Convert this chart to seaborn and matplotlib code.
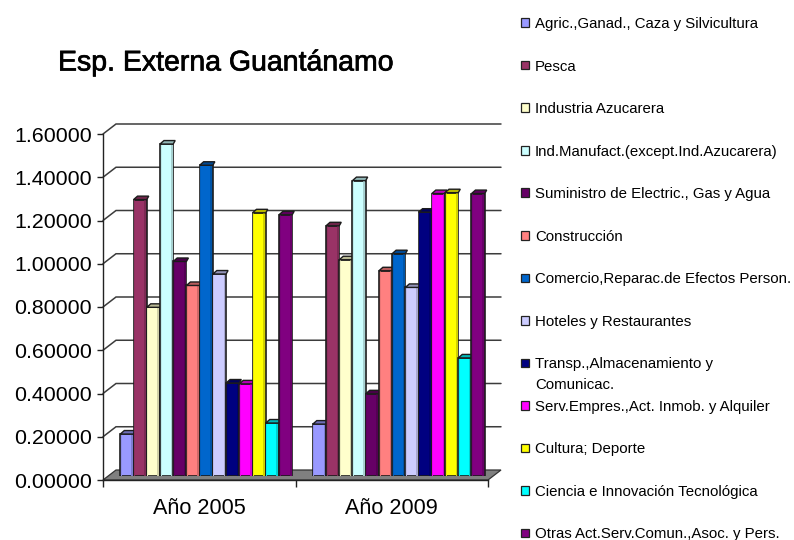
import matplotlib
matplotlib.use("Agg")
import matplotlib.pyplot as plt
import matplotlib.colors as mc
import matplotlib.patheffects as pe
from matplotlib.patches import Patch, Polygon
import numpy as np
import pandas as pd
import seaborn as sns

years = ["Año 2005", "Año 2009"]
sectors = ["Agric.,Ganad., Caza y Silvicultura", "Pesca", "Industria Azucarera",
           "Ind.Manufact.(except.Ind.Azucarera)", "Suministro de Electric., Gas y Agua",
           "Construcción", "Comercio,Reparac.de Efectos Person.", "Hoteles y Restaurantes",
           "Transp.,Almacenamiento y Comunicac.", "Serv.Empres.,Act. Inmob. y Alquiler",
           "Cultura; Deporte", "Ciencia e Innovación Tecnológica",
           "Otras Act.Serv.Comun.,Asoc. y Pers."]
values_2005 = [0.194, 1.278, 0.78, 1.535, 0.992, 0.881, 1.437, 0.934, 0.43, 0.426, 1.217, 0.245, 1.208]
values_2009 = [0.24, 1.157, 1.0, 1.366, 0.38, 0.949, 1.028, 0.872, 1.22, 1.306, 1.31, 0.546, 1.306]
colors = ["#9999FF", "#993366", "#FFFFCC", "#CCFFFF", "#660066", "#FF8080", "#0066CC",
          "#CCCCFF", "#000080", "#FF00FF", "#FFFF00", "#00FFFF", "#800080"]
ytick_values = [0, 0.2, 0.4, 0.6, 0.8, 1.0, 1.2, 1.4, 1.6]

df = pd.DataFrame({
    "year": [years[0]] * 13 + [years[1]] * 13,
    "sector": sectors * 2,
    "value": values_2005 + values_2009,
})

W, H = 794, 540
sns.set_theme(style="white")
plt.rcParams["font.family"] = ["Liberation Sans", "DejaVu Sans"]
fig = plt.figure(figsize=(W / 100, H / 100), dpi=100, facecolor="white")


def px_axes(left, right, top, bottom):
    return fig.add_axes([left / W, 1 - bottom / H, (right - left) / W, (bottom - top) / H])


# Front plane: value axis, category axis, walls
ax = px_axes(103, 488, 134, 480)
ax.set_xlim(-0.5, 1.5)
ax.set_ylim(0, 1.6)
xpx, ypx = 2 / 385, 1.6 / 346
dx, dy = 13 * xpx, 10 * ypx
for v in ytick_values[1:]:
    ax.plot([-0.5, -0.5 + dx, 1.5 + dx], [v, v + dy, v + dy], color="#3c3c3c", lw=1.1,
            clip_on=False, zorder=1, solid_joinstyle="miter")
ax.add_patch(Polygon([(-0.5, 0), (-0.5 + dx, dy), (1.5 + dx, dy), (1.5, 0)], closed=True,
                     facecolor="#808080", edgecolor="#333333", lw=0.9, clip_on=False, zorder=1.5))
ax.set_yticks(ytick_values)
ax.set_yticklabels([f"{v:.5f}" for v in ytick_values], fontsize=15.4, color="black")
ax.set_xticks([0, 1])
ax.set_xticklabels(years, fontsize=15.6, color="black")
ax.set_xticks([-0.5, 0.5, 1.5], minor=True)
ax.tick_params(axis="x", which="major", length=0, pad=13)
ax.tick_params(axis="x", which="minor", length=5, width=1, color="#222222", bottom=True)
ax.tick_params(axis="y", length=4, width=1, color="#222222", left=True, pad=4)
for name, spine in ax.spines.items():
    spine.set_visible(name in ("left", "bottom"))
    spine.set_color("#222222")
    spine.set_linewidth(1)
ax.patch.set_alpha(0)

# Bar plane, set back inside the depth of the chart
axb = px_axes(110, 495, 130, 476)
axb.patch.set_alpha(0)
sns.barplot(data=df, x="year", y="value", hue="sector", order=years, hue_order=sectors,
            palette=colors, width=0.893, gap=0, dodge=True, saturation=1, legend=False,
            errorbar=None, ax=axb, edgecolor="#1c1c1c", linewidth=1.2)
axb.set_xlim(-0.5, 1.5)
axb.set_ylim(0, 1.6)
axb.axis("off")

bxpx, bypx = 2 / 385, 1.6 / 346
for i, cont in enumerate(axb.containers):
    col = np.array(mc.to_rgb(colors[i]))
    for p in cont.patches:
        x0, w, h = p.get_x(), p.get_width(), p.get_height()
        z = 3 + i * 0.1
        p.set_zorder(z)
        strip = 2.5 * bxpx
        axb.fill_between([x0 + w - strip, x0 + w - 0.6 * bxpx], 0 + 0.5 * bypx, h - 0.6 * bypx,
                         color=col * 0.82, lw=0, zorder=z + 0.01)
        axb.fill_between([x0 + 0.6 * bxpx, x0 + 1.6 * bxpx], 0 + 0.5 * bypx, h - 0.6 * bypx,
                         color=col * 0.92, lw=0, zorder=z + 0.01)
        cap = [(x0, h), (x0 + w, h), (x0 + w + 2 * bxpx, h + 3.5 * bypx), (x0 + 4 * bxpx, h + 3.5 * bypx)]
        axb.add_patch(Polygon(cap, closed=True, facecolor=col * 0.72, edgecolor="#1c1c1c",
                              lw=1.0, clip_on=False, zorder=z + 0.02))

# Title
title = fig.text(58 / W, 1 - 63.5 / H, "Esp. Externa Guantánamo", fontsize=20.5, color="black",
                 ha="left", va="center")
title.set_path_effects([pe.withStroke(linewidth=0.5, foreground="black")])

# Legend
handles = [Patch(facecolor=c, edgecolor="#222222", lw=0.9) for c in colors]
labels = [s.replace(" Comunicac.", "") for s in sectors]
leg = fig.legend(handles, labels, loc="upper left", bbox_to_anchor=(521 / W, 1 - 17 / H),
                 frameon=False, fontsize=10.85, ncol=1, handlelength=0.5, handleheight=0.5,
                 handletextpad=0.42, labelspacing=1.893, borderpad=0, borderaxespad=0,
                 labelcolor="black")
fig.text(535 / W, 1 - 385 / H, "Comunicac.", fontsize=10.85, color="black", ha="left", va="center")

fig.savefig("out.png", dpi=100)
